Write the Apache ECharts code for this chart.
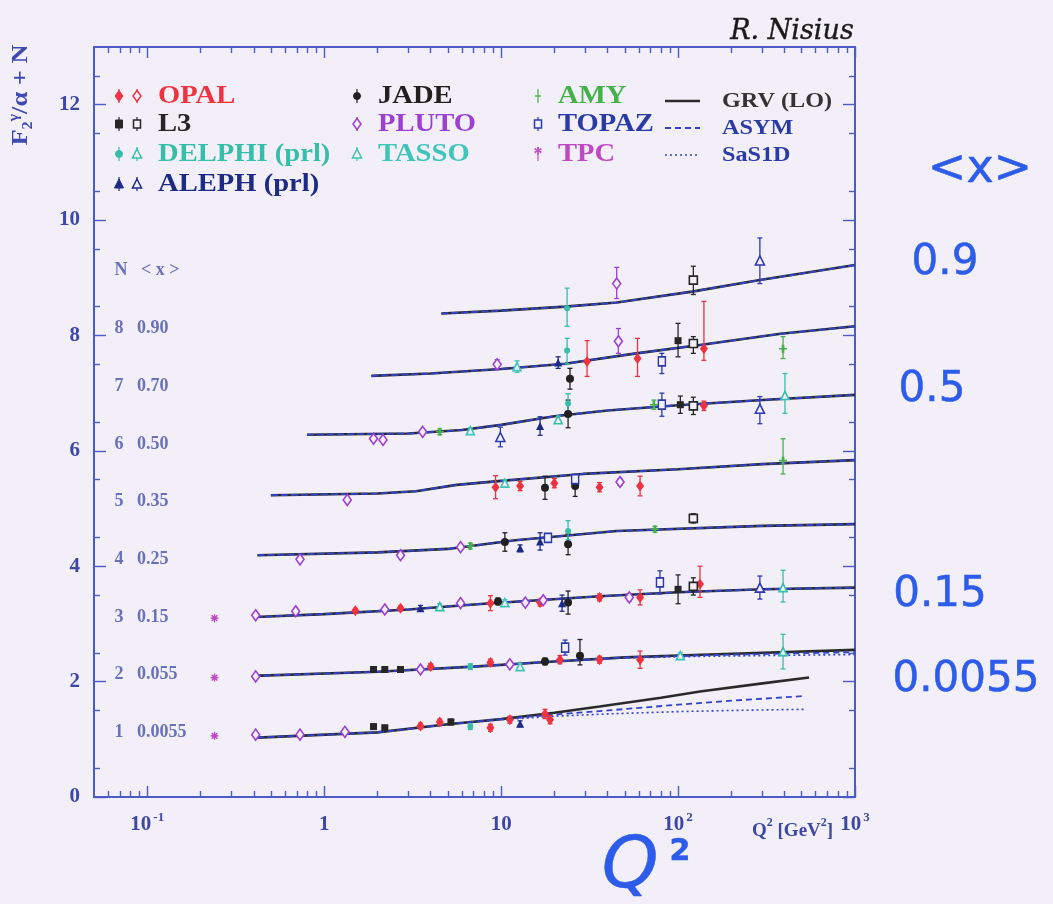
<!DOCTYPE html>
<html>
<head>
<meta charset="utf-8">
<script src="https://cdn.jsdelivr.net/npm/echarts@6/dist/echarts.min.js"></script>
<style>
  html, body { margin: 0; padding: 0; background: #f2eff8; }
  #chart { width: 1053px; height: 904px; }
</style>
</head>
<body>
<div id="chart"></div>
<script>
// ---------------- axis ranges and tick labels ----------------
const Q2_MIN = 0.05, Q2_MAX = 1000;
const F_MIN = 0, F_MAX = 13;
const xMajorTicks = [0.1, 1, 10, 100, 1000];
const xTickBase = ['10', '1', '10', '10', '10'];
const xTickExp = ['-1', '', '', '2', '3'];
const yMajorTicks = [0, 2, 4, 6, 8, 10, 12];

// ---------------- bins: offset N and mean x ----------------
const binN = [1, 2, 3, 4, 5, 6, 7, 8];
const binMeanX = ['0.0055', '0.055', '0.15', '0.25', '0.35', '0.50', '0.70', '0.90'];

// ---------------- GRV (LO) predictions, [Q2, F2/alpha + N] ----------------
const grvN1 = [[0.42, 1.03], [2, 1.12], [5, 1.26], [10, 1.35], [20, 1.46], [36, 1.57], [80, 1.72], [133, 1.83], [300, 1.97], [550, 2.07]];
const grvN2 = [[0.40, 2.10], [2, 2.17], [7, 2.26], [20, 2.35], [50, 2.42], [150, 2.47], [1000, 2.55]];
const grvN3 = [[0.41, 3.12], [1, 3.17], [3, 3.25], [8, 3.35], [36, 3.48], [100, 3.55], [300, 3.60], [1000, 3.63]];
const grvN4 = [[0.42, 4.19], [2, 4.24], [5, 4.30], [12, 4.45], [45, 4.61], [300, 4.70], [1000, 4.73]];
const grvN5 = [[0.50, 5.23], [2, 5.26], [3.3, 5.30], [5.6, 5.41], [10, 5.48], [29, 5.60], [100, 5.68], [300, 5.77], [1000, 5.84]];
const grvN6 = [[0.80, 6.28], [3, 6.30], [6, 6.36], [10, 6.45], [20, 6.60], [40, 6.70], [100, 6.79], [300, 6.88], [1000, 6.97]];
const grvN7 = [[1.85, 7.30], [4, 7.34], [10, 7.42], [23, 7.51], [58, 7.69], [130, 7.83], [380, 8.03], [1000, 8.16]];
const grvN8 = [[4.6, 8.38], [10, 8.43], [23, 8.50], [45, 8.57], [120, 8.76], [290, 8.96], [1000, 9.22]];

// ---------------- ASYM and SaS1D: separate from GRV only in the lowest bins ----------------
const asymN1 = [[0.42, 1.03], [2, 1.12], [5, 1.26], [10, 1.35], [20, 1.43], [40, 1.50], [100, 1.60], [200, 1.67], [520, 1.75]];
const sasN1 = [[0.42, 1.03], [2, 1.12], [5, 1.26], [10, 1.34], [20, 1.40], [40, 1.44], [100, 1.48], [200, 1.50], [520, 1.52]];
const asymN2 = [[0.40, 2.10], [2, 2.17], [7, 2.26], [20, 2.35], [50, 2.42], [150, 2.46], [1000, 2.51]];
const sasN2 = [[0.40, 2.10], [2, 2.17], [7, 2.26], [20, 2.35], [50, 2.41], [150, 2.44], [1000, 2.47]];

// ---------------- measurements, [Q2, F2/alpha + N, error down, error up] ----------------
const opal = [
  [30.6, 7.55, 0.26, 0.36], [59, 7.60, 0.31, 0.35], [140, 7.77, 0.20, 0.82],
  [140, 6.78, 0.08, 0.08],
  [9.3, 5.37, 0.20, 0.20], [12.8, 5.39, 0.08, 0.08], [20, 5.44, 0.08, 0.08], [36, 5.37, 0.08, 0.08], [61, 5.39, 0.17, 0.17],
  [1.5, 3.23, 0.04, 0.04], [2.7, 3.27, 0.04, 0.04], [8.7, 3.36, 0.13, 0.13], [16.6, 3.37, 0.06, 0.06], [36, 3.46, 0.06, 0.06], [61, 3.46, 0.13, 0.13], [133, 3.69, 0.23, 0.31],
  [4.0, 2.26, 0.05, 0.05], [8.7, 2.33, 0.06, 0.06], [21.5, 2.38, 0.07, 0.07], [36, 2.38, 0.06, 0.06], [61, 2.38, 0.15, 0.15],
  [3.5, 1.23, 0.05, 0.05], [4.5, 1.30, 0.05, 0.05], [8.7, 1.20, 0.06, 0.06], [11.2, 1.34, 0.06, 0.06], [17.7, 1.44, 0.08, 0.08], [18.9, 1.34, 0.07, 0.07]
];
const l3 = [
  [100, 7.91, 0.28, 0.30], [103, 6.80, 0.15, 0.15], [100, 3.60, 0.25, 0.25],
  [1.9, 2.21, 0.04, 0.04], [2.2, 2.21, 0.04, 0.04], [2.7, 2.21, 0.04, 0.04],
  [1.9, 1.22, 0.04, 0.04], [2.2, 1.20, 0.04, 0.04], [5.2, 1.30, 0.05, 0.05]
];
const l3Open = [[122, 8.96, 0.25, 0.24], [122, 7.86, 0.17, 0.12], [122, 6.78, 0.15, 0.15], [122, 4.83, 0.08, 0.08], [122, 3.65, 0.15, 0.15]];
const jade = [
  [24.5, 7.25, 0.18, 0.18], [23.9, 6.64, 0.24, 0.24], [17.7, 5.36, 0.20, 0.20], [26.2, 5.39, 0.18, 0.18],
  [10.5, 4.42, 0.16, 0.16], [23.9, 4.38, 0.18, 0.18], [9.6, 3.39, 0.06, 0.06], [23.9, 3.37, 0.20, 0.20],
  [17.7, 2.35, 0.06, 0.06], [27.9, 2.45, 0.16, 0.28]
];
const delphi = [[23.6, 8.47, 0.31, 0.35], [23.6, 7.74, 0.23, 0.21], [23.9, 6.82, 0.17, 0.17], [23.9, 4.61, 0.15, 0.18], [6.7, 2.26, 0.05, 0.05], [6.7, 1.22, 0.05, 0.05]];
const delphiOpen = [[21, 6.54, 0.06, 0.06], [402, 6.96, 0.31, 0.38], [392, 3.63, 0.25, 0.30], [392, 2.52, 0.30, 0.30], [4.5, 3.30, 0.05, 0.05]];
const aleph = [[21, 7.53, 0.10, 0.10], [16.6, 6.43, 0.16, 0.16], [12.8, 4.31, 0.06, 0.06], [16.6, 4.43, 0.15, 0.15], [3.5, 3.27, 0.05, 0.05], [22.1, 3.36, 0.14, 0.14], [12.8, 1.27, 0.05, 0.05]];
const alephOpen = [[290, 9.30, 0.40, 0.39], [9.9, 6.24, 0.17, 0.17], [290, 6.73, 0.26, 0.21], [290, 3.63, 0.20, 0.20]];
const pluto = [
  [45, 8.90, 0.26, 0.28], [9.5, 7.50, 0.08, 0.08], [46, 7.90, 0.21, 0.22],
  [1.9, 6.21, 0.04, 0.04], [2.15, 6.19, 0.04, 0.04], [3.6, 6.33, 0.04, 0.04],
  [1.35, 5.15, 0.04, 0.04], [47, 5.46, 0.06, 0.06],
  [0.73, 4.12, 0.04, 0.04], [2.7, 4.19, 0.04, 0.04], [5.9, 4.33, 0.05, 0.05],
  [0.41, 3.15, 0.03, 0.03], [0.69, 3.22, 0.03, 0.03], [2.2, 3.25, 0.04, 0.04], [5.9, 3.36, 0.05, 0.05], [13.7, 3.37, 0.05, 0.05], [17.3, 3.41, 0.05, 0.05], [53, 3.46, 0.06, 0.06],
  [0.41, 2.09, 0.03, 0.03], [3.5, 2.21, 0.04, 0.04], [11.2, 2.30, 0.05, 0.05],
  [0.41, 1.08, 0.03, 0.03], [0.73, 1.08, 0.03, 0.03], [1.31, 1.13, 0.03, 0.03]
];
const tasso = [[12.3, 7.46, 0.10, 0.10], [6.7, 6.35, 0.05, 0.05], [10.5, 5.44, 0.06, 0.06], [10.5, 3.37, 0.05, 0.05], [12.8, 2.26, 0.05, 0.05], [103, 2.45, 0.05, 0.05]];
const amy = [[392, 7.77, 0.17, 0.21], [4.5, 6.33, 0.05, 0.05], [73, 6.80, 0.08, 0.08], [392, 5.83, 0.23, 0.38], [6.7, 4.35, 0.05, 0.05], [74, 4.64, 0.05, 0.05]];
const topaz = [[81, 7.55, 0.21, 0.14], [81, 6.80, 0.20, 0.20], [26.2, 5.51, 0.06, 0.06], [18.4, 4.49, 0.06, 0.06], [79, 3.72, 0.20, 0.20], [23, 2.59, 0.13, 0.13]];
const tpc = [[0.24, 1.06, 0, 0], [0.24, 2.07, 0, 0], [0.24, 3.10, 0, 0]];

// ---------------- styling ----------------
const BG = '#f2eff8';
const FRAME = '#4d5bc8';
const TICK_TEXT = '#3d48a4';
const SERIF = '"Liberation Serif", "DejaVu Serif", serif';
const HAND = '"DejaVu Sans", "Noto Sans", sans-serif';
const INK = '#2d5bea';
const BIN_LABEL_Q2 = 0.062;

const PLUS = 'path://M-1,-5H1V-1H3V1H1V5H-1V1H-3V-1H-1Z';
const STAR = 'path://M-0.7,-4H0.7V4H-0.7Z M-4,-0.7H4V0.7H-4Z M-3.3,-2.3L-2.3,-3.3L3.3,2.3L2.3,3.3Z M2.3,-3.3L3.3,-2.3L-2.3,3.3L-3.3,2.3Z';

const experiments = [
  { name: 'OPAL', data: opal, color: '#ee3340', symbol: 'diamond', open: false, size: [8, 11] },
  { name: 'L3', data: l3, color: '#262626', symbol: 'rect', open: false, size: 7 },
  { name: 'L3 (open)', data: l3Open, color: '#262626', symbol: 'rect', open: true, size: 8 },
  { name: 'JADE', data: jade, color: '#202020', symbol: 'circle', open: false, size: 8 },
  { name: 'DELPHI', data: delphi, color: '#35bfa9', symbol: 'circle', open: false, size: 6 },
  { name: 'DELPHI (open)', data: delphiOpen, color: '#35bfa9', symbol: 'triangle', open: true, size: 8 },
  { name: 'ALEPH', data: aleph, color: '#1d2a86', symbol: 'triangle', open: false, size: 8 },
  { name: 'ALEPH (open)', data: alephOpen, color: '#2f3ab0', symbol: 'triangle', open: true, size: 9 },
  { name: 'PLUTO', data: pluto, color: '#9d3fd2', symbol: 'diamond', open: true, size: [8, 11] },
  { name: 'TASSO', data: tasso, color: '#3fc4b8', symbol: 'triangle', open: true, size: 8 },
  { name: 'AMY', data: amy, color: '#45b14a', symbol: PLUS, open: false, size: 8 },
  { name: 'TOPAZ', data: topaz, color: '#2c3aa6', symbol: 'rect', open: true, size: [7, 9] },
  { name: 'TPC', data: tpc, color: '#c048c4', symbol: STAR, open: false, size: 8 }
];

// ---------------- series builders ----------------
function errorBars(exp) {
  return {
    type: 'custom', name: exp.name + ' errors', z: 3, silent: true,
    data: exp.data.map(p => [p[0], p[1], p[1] - p[2], p[1] + p[3]]),
    encode: { x: 0, y: [1, 2, 3] },
    renderItem: (params, api) => {
      const q = api.value(0);
      const lo = api.coord([q, api.value(2)]);
      const hi = api.coord([q, api.value(3)]);
      const cap = 2.5;
      const st = { stroke: exp.color, lineWidth: 1.3 };
      return {
        type: 'group', children: [
          { type: 'line', shape: { x1: lo[0], y1: lo[1], x2: hi[0], y2: hi[1] }, style: st },
          { type: 'line', shape: { x1: lo[0] - cap, y1: lo[1], x2: lo[0] + cap, y2: lo[1] }, style: st },
          { type: 'line', shape: { x1: hi[0] - cap, y1: hi[1], x2: hi[0] + cap, y2: hi[1] }, style: st }
        ]
      };
    }
  };
}
function markers(exp) {
  return {
    type: 'scatter', name: exp.name, z: 4, silent: true,
    symbol: exp.symbol, symbolSize: exp.size,
    data: exp.data.map(p => [p[0], p[1]]),
    itemStyle: exp.open
      ? { color: BG, borderColor: exp.color, borderWidth: 1.6, opacity: 1 }
      : { color: exp.color, opacity: 1 }
  };
}
function curve(name, data, lineStyle, z) {
  return { type: 'line', name, data, showSymbol: false, symbol: 'none', silent: true, z, lineStyle };
}

const GRV_STYLE = { color: '#2a2a2a', width: 2.6, type: 'solid' };
const ASYM_STYLE = { color: '#3343c8', width: 1.8, type: [6, 4] };
const SAS_STYLE = { color: '#3343c8', width: 1.6, type: [2, 3] };

const grvBins = [grvN1, grvN2, grvN3, grvN4, grvN5, grvN6, grvN7, grvN8];
// the three calculations coincide within the line width for N >= 3
const asymBins = [asymN1, asymN2, grvN3, grvN4, grvN5, grvN6, grvN7, grvN8];
const sasBins = [sasN1, sasN2, grvN3, grvN4, grvN5, grvN6, grvN7, grvN8];

const series = [];
grvBins.forEach((d, i) => series.push(curve('GRV (LO) ' + binN[i], d, GRV_STYLE, 2)));
asymBins.forEach((d, i) => series.push(curve('ASYM ' + binN[i], d, ASYM_STYLE, 2)));
sasBins.forEach((d, i) => series.push(curve('SaS1D ' + binN[i], d, SAS_STYLE, 2)));
experiments.forEach(e => { series.push(errorBars(e)); series.push(markers(e)); });

// bin labels "N <x>" inside the frame
series.push({
  type: 'scatter', name: 'bin labels', symbolSize: 0, silent: true, z: 5,
  data: binN.map((n, i) => ({ value: [BIN_LABEL_Q2, n], label: { formatter: n + '   ' + binMeanX[i] } }))
    .concat([{ value: [BIN_LABEL_Q2, 9], label: { formatter: 'N   < x >' } }]),
  label: {
    show: true, position: 'right', distance: 4, offset: [0, -7],
    color: '#4651a8', fontFamily: SERIF, fontWeight: 'bold', fontSize: 18
  }
});

// ---------------- axes ----------------
const xMinorTicks = [];
for (let e = -2; e <= 2; e++) {
  for (let m = 2; m <= 9; m++) {
    const v = +(m * Math.pow(10, e)).toPrecision(3);
    if (v > Q2_MIN && v < Q2_MAX) xMinorTicks.push(v);
  }
}
const yMinorTicks = [];
for (let k = 1; k <= 25; k += 2) yMinorTicks.push(k * 0.5);

const xLabelRich = {
  b: { fontFamily: SERIF, fontWeight: 'bold', fontSize: 21, color: TICK_TEXT, lineHeight: 24, verticalAlign: 'bottom' },
  s: { fontFamily: SERIF, fontWeight: 'bold', fontSize: 13, color: TICK_TEXT, lineHeight: 24, verticalAlign: 'top', padding: [0, 0, 0, 2] }
};
function xLabelText(v) {
  const i = xMajorTicks.findIndex(t => Math.abs(t - v) / t < 1e-6);
  if (i < 0) return '';
  return '{b|' + xTickBase[i] + '}' + (xTickExp[i] ? '{s|' + xTickExp[i] + '}' : '');
}
function xAxisCfg(pos, ticks, len, withLabels) {
  return {
    type: 'log', logBase: 10, min: Q2_MIN, max: Q2_MAX, position: pos,
    axisLine: { show: false, onZero: false }, splitLine: { show: false },
    axisTick: { show: true, inside: true, length: len, customValues: ticks, lineStyle: { color: FRAME, width: 1.4 } },
    axisLabel: withLabels
      ? { show: true, customValues: xMajorTicks, margin: 14, formatter: xLabelText, rich: xLabelRich, showMinLabel: true, showMaxLabel: true }
      : { show: false }
  };
}
function yAxisCfg(pos, ticks, len, withLabels) {
  return {
    type: 'value', min: F_MIN, max: F_MAX, position: pos,
    axisLine: { show: false, onZero: false }, splitLine: { show: false },
    axisTick: { show: true, inside: true, length: len, customValues: ticks, lineStyle: { color: FRAME, width: 1.4 } },
    axisLabel: withLabels
      ? { show: true, customValues: yMajorTicks, margin: 14, color: TICK_TEXT, fontFamily: SERIF, fontWeight: 'bold', fontSize: 21 }
      : { show: false }
  };
}

// ---------------- legend drawn in the upper-left of the frame ----------------
function legendMarker(kind, cx, cy, color, open) {
  const fill = open ? BG : color;
  const style = { fill, stroke: color, lineWidth: open ? 1.5 : 1 };
  const bar = { type: 'line', shape: { x1: cx, y1: cy - 7, x2: cx, y2: cy + 7 }, style: { stroke: color, lineWidth: 1.2 } };
  let shape;
  if (kind === 'diamond') shape = { type: 'polygon', shape: { points: [[cx, cy - 5.5], [cx + 4, cy], [cx, cy + 5.5], [cx - 4, cy]] }, style };
  else if (kind === 'rect') shape = { type: 'rect', shape: { x: cx - 3.5, y: cy - 4, width: 7, height: 8 }, style };
  else if (kind === 'circle') shape = { type: 'circle', shape: { cx, cy, r: 3.5 }, style };
  else if (kind === 'triangle') shape = { type: 'polygon', shape: { points: [[cx, cy - 5], [cx + 4.5, cy + 4], [cx - 4.5, cy + 4]] }, style };
  else if (kind === 'plus') shape = { type: 'line', shape: { x1: cx - 3, y1: cy, x2: cx + 3, y2: cy }, style: { stroke: color, lineWidth: 1.4 } };
  else shape = { type: 'text', x: cx, y: cy + 1, style: { text: '*', fill: color, font: 'bold 18px ' + SERIF, align: 'center', verticalAlign: 'middle' } };
  return [bar, shape];
}
function legendText(text, x, y, color, size) {
  return {
    type: 'text', x, y, scaleX: 1.1,
    style: { text, x: 0, y: 0, fill: color, font: 'bold ' + size + 'px ' + SERIF, align: 'left', verticalAlign: 'middle' }
  };
}
const legendRows = [96, 124, 154, 184];
const graphics = [];
// column 1
[
  ['diamond', '#ee3340', 'OPAL'], ['rect', '#262626', 'L3'], ['circle', '#35bfa9', 'DELPHI (prl)'], ['triangle', '#1d2a86', 'ALEPH (prl)']
].forEach((r, i) => {
  const y = legendRows[i];
  graphics.push(...legendMarker(r[0], 119, y, r[1], false));
  graphics.push(...legendMarker(r[0] === 'circle' ? 'triangle' : r[0], 137, y, r[1], true));
  graphics.push(legendText(r[2], 158, y, r[1], 26));
});
// column 2
[['circle', '#202020', 'JADE'], ['diamond', '#9d3fd2', 'PLUTO'], ['triangle', '#3fc4b8', 'TASSO']].forEach((r, i) => {
  const y = legendRows[i];
  graphics.push(...legendMarker(r[0], 357, y, r[1], r[2] !== 'JADE'));
  graphics.push(legendText(r[2], 378, y, r[1], 26));
});
// column 3
[['plus', '#45b14a', 'AMY'], ['rect', '#2c3aa6', 'TOPAZ'], ['star', '#c048c4', 'TPC']].forEach((r, i) => {
  const y = legendRows[i];
  graphics.push(...legendMarker(r[0], 538, y, r[1], r[2] === 'TOPAZ'));
  graphics.push(legendText(r[2], 558, y, r[1], 26));
});
// column 4: model curves
[['GRV (LO)', GRV_STYLE, '#333333'], ['ASYM', ASYM_STYLE, '#2a3aa6'], ['SaS1D', SAS_STYLE, '#2a3aa6']].forEach((r, i) => {
  const y = [101, 128, 155][i];
  graphics.push({ type: 'line', shape: { x1: 665, y1: y, x2: 700, y2: y }, style: { stroke: r[1].color, lineWidth: r[1].width, lineDash: r[1].type === 'solid' ? null : r[1].type } });
  graphics.push(legendText(r[0], 722, y, r[2], 22));
});

// axis titles
graphics.push({
  type: 'text', x: 21, y: 95, rotation: Math.PI / 2, scaleX: 1.15,
  style: {
    text: '{a|F}{sub|2}{sup|γ}{a|/α + N}', align: 'center', verticalAlign: 'middle',
    rich: {
      a: { fontFamily: SERIF, fontWeight: 'bold', fontSize: 23, fill: '#3f4ab0', color: '#3f4ab0' },
      sub: { fontFamily: SERIF, fontWeight: 'bold', fontSize: 14, fill: '#3f4ab0', color: '#3f4ab0', verticalAlign: 'bottom', lineHeight: 28 },
      sup: { fontFamily: SERIF, fontWeight: 'bold', fontSize: 14, fill: '#3f4ab0', color: '#3f4ab0', verticalAlign: 'top', lineHeight: 28 }
    }
  }
});
graphics.push({
  type: 'text', x: 752, y: 829,
  style: {
    text: '{a|Q}{s|2}{a| [GeV}{s|2}{a|]}', align: 'left', verticalAlign: 'middle',
    rich: {
      a: { fontFamily: SERIF, fontWeight: 'bold', fontSize: 19, fill: TICK_TEXT, color: TICK_TEXT, lineHeight: 24, verticalAlign: 'bottom' },
      s: { fontFamily: SERIF, fontWeight: 'bold', fontSize: 12, fill: TICK_TEXT, color: TICK_TEXT, lineHeight: 24, verticalAlign: 'top' }
    }
  }
});

// pen annotations around the figure
function pen(text, x, y, size, color, style) {
  return {
    type: 'text', x, y, z: 10,
    style: {
      text, x: 0, y: 0, fill: color, stroke: color, lineWidth: 0.5,
      font: (style || 'normal') + ' ' + size + 'px ' + HAND, align: 'center', verticalAlign: 'middle'
    }
  };
}
graphics.push({
  type: 'text', x: 792, y: 32, z: 10,
  style: { text: 'R. Nisius', x: 0, y: 0, fill: '#1a1a1a', stroke: '#1a1a1a', lineWidth: 0.4, font: 'italic 27px "DejaVu Serif", serif', align: 'center', verticalAlign: 'middle' }
});
graphics.push(pen('<x>', 980, 170, 46, INK));
graphics.push(pen('0.9', 945, 263, 42, INK));
graphics.push(pen('0.5', 932, 390, 42, INK));
graphics.push(pen('0.15', 940, 595, 42, INK));
graphics.push(pen('0.0055', 966, 680, 42, INK));
graphics.push(pen('Q', 630, 868, 72, INK, 'italic'));
graphics.push(pen('2', 680, 852, 30, INK, 'bold'));

// ---------------- chart ----------------
const chart = echarts.init(document.getElementById('chart'), null, { renderer: 'canvas' });
chart.setOption({
  backgroundColor: BG,
  animation: false,
  grid: {
    left: 94, right: 198, top: 47, bottom: 107, outerBoundsMode: 'none',
    show: true, borderColor: FRAME, borderWidth: 2, backgroundColor: 'transparent'
  },
  xAxis: [
    xAxisCfg('bottom', xMajorTicks, 11, true),
    xAxisCfg('bottom', xMinorTicks, 6, false),
    xAxisCfg('top', xMajorTicks, 11, false),
    xAxisCfg('top', xMinorTicks, 6, false)
  ],
  yAxis: [
    yAxisCfg('left', yMajorTicks, 12, true),
    yAxisCfg('left', yMinorTicks, 6, false),
    yAxisCfg('right', yMajorTicks, 12, false),
    yAxisCfg('right', yMinorTicks, 6, false)
  ],
  series,
  graphic: graphics
});
</script>
</body>
</html>
